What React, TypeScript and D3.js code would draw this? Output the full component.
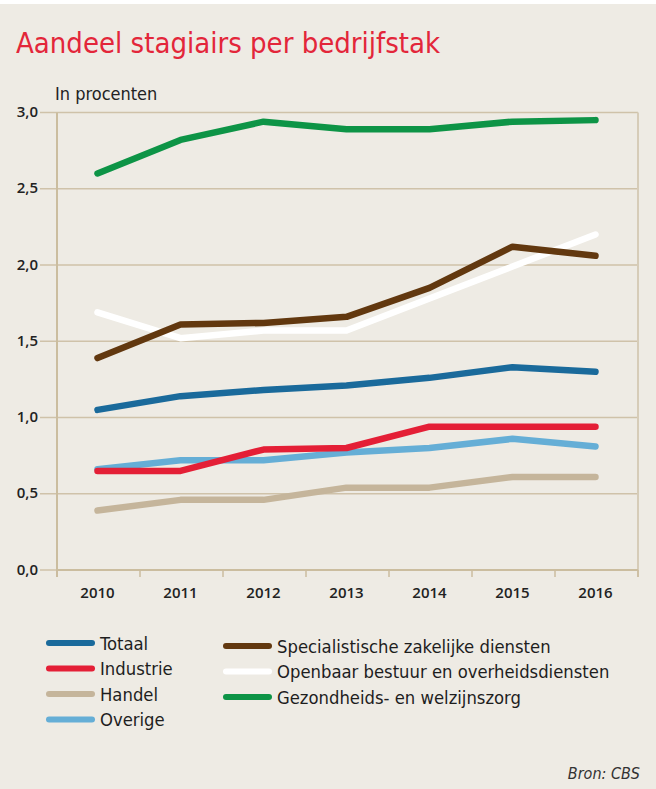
import { scaleBand, scaleLinear, line } from "d3";

// data
const years = ["2010", "2011", "2012", "2013", "2014", "2015", "2016"];
const yTicks = [0, 0.5, 1, 1.5, 2, 2.5, 3];

const totaal = [1.05, 1.14, 1.18, 1.21, 1.26, 1.33, 1.3];
const industrie = [0.65, 0.65, 0.79, 0.8, 0.94, 0.94, 0.94];
const handel = [0.39, 0.46, 0.46, 0.54, 0.54, 0.61, 0.61];
const overige = [0.66, 0.72, 0.72, 0.77, 0.8, 0.86, 0.81];
const specialistisch = [1.39, 1.61, 1.62, 1.66, 1.85, 2.12, 2.06];
const openbaar = [1.69, 1.52, 1.57, 1.57, 1.78, 1.99, 2.2];
const gezondheid = [2.6, 2.82, 2.94, 2.89, 2.89, 2.94, 2.95];

const seriesNames = [
	"Totaal",
	"Industrie",
	"Handel",
	"Overige",
	"Specialistische zakelijke diensten",
	"Openbaar bestuur en overheidsdiensten",
	"Gezondheids- en welzijnszorg",
];
const seriesValues = [totaal, industrie, handel, overige, specialistisch, openbaar, gezondheid];
const seriesColors = ["#1a6a9b", "#e41f36", "#c5b59b", "#65aed6", "#62380f", "#ffffff", "#0d9446"];
// draw order: back to front
const drawOrder = [2, 3, 1, 0, 5, 4, 6];

const W = 656;
const H = 789;
const left = 57;
const right = 638;
const top = 112.5;
const bottom = 570;

const numFont = "'Open Sans', sans-serif";
const textFont = "'DejaVu Sans Condensed', sans-serif";

function fmt(v: number): string {
	return v.toFixed(1).replace(".", ",");
}

export default function App() {
	const x = scaleBand<string>().domain(years).range([left, right]);
	const y = scaleLinear().domain([0, 3]).range([bottom, top]);
	const cx = (yr: string) => (x(yr) ?? 0) + x.bandwidth() / 2 - 1;
	const path = line<number>()
		.x((_, i) => cx(years[i]))
		.y((v) => y(v));

	const boundaries = [...years.map((yr) => x(yr) ?? 0), right];

	return (
		<svg
			width={W}
			height={H}
			style={{ position: "absolute", top: 0, left: 0 }}
		>
			<rect x={0} y={0} width={W} height={H} fill="#ffffff" />
			<rect x={0} y={4} width={W} height={H - 4} fill="#eeebe4" />

			<text x={16} y={53} fill="#e3263a" fontFamily={textFont} fontSize={29}>
				Aandeel stagiairs per bedrijfstak
			</text>
			<text x={55} y={100} fill="#222" fontFamily={textFont} fontSize={18}>
				In procenten
			</text>

			{/* grid and y labels */}
			{yTicks.map((t) => (
				<g key={t}>
					<line
						x1={40}
						x2={right}
						y1={y(t)}
						y2={y(t)}
						stroke="#cfc2a9"
						strokeWidth={1.3}
					/>
					<text
						x={38}
						y={y(t) + 4.5}
						textAnchor="end"
						fill="#222"
						fontFamily={numFont}
						fontWeight={600}
						fontSize={15}
					>
						{fmt(t)}
					</text>
				</g>
			))}

			{/* axis frame */}
			<line x1={left} x2={left} y1={top} y2={bottom + 7} stroke="#cbbd9f" strokeWidth={2} />
			<line x1={right} x2={right} y1={top} y2={bottom + 7} stroke="#d6ccb8" strokeWidth={2} />
			<line x1={left} x2={right} y1={bottom} y2={bottom} stroke="#cbbd9f" strokeWidth={2} />
			{boundaries.map((b, i) => (
				<line key={i} x1={b} x2={b} y1={bottom} y2={bottom + 7} stroke="#cbbd9f" strokeWidth={1.5} />
			))}
			{years.map((yr) => (
				<text
					key={yr}
					x={cx(yr)}
					y={598}
					textAnchor="middle"
					fill="#222"
					fontFamily={numFont}
					fontWeight={600}
					fontSize={15}
				>
					{yr}
				</text>
			))}

			{/* lines */}
			{drawOrder.map((i) => (
				<path
					key={seriesNames[i]}
					d={path(seriesValues[i]) ?? ""}
					fill="none"
					stroke={seriesColors[i]}
					strokeWidth={6.5}
					strokeLinecap="round"
					strokeLinejoin="round"
				/>
			))}

			{/* legend */}
			{seriesNames.map((name, i) => {
				const col = i < 4 ? 0 : 1;
				const row = col === 0 ? i : i - 4;
				const lx = col === 0 ? 46 : 223;
				const ly = (col === 0 ? 643 : 646) + row * 25.5;
				return (
					<g key={name}>
						<line
							x1={lx + 3}
							x2={lx + 46}
							y1={ly}
							y2={ly}
							stroke={seriesColors[i]}
							strokeWidth={6}
							strokeLinecap="round"
						/>
						<text
							x={lx + 54}
							y={ly + 6.5}
							fill="#1e1e1e"
							fontFamily={textFont}
							fontSize={18.3}
						>
							{name}
						</text>
					</g>
				);
			})}

			<text
				x={640}
				y={779}
				textAnchor="end"
				fill="#333"
				fontFamily={textFont}
				fontStyle="italic"
				fontSize={16}
			>
				Bron: CBS
			</text>
		</svg>
	);
}
